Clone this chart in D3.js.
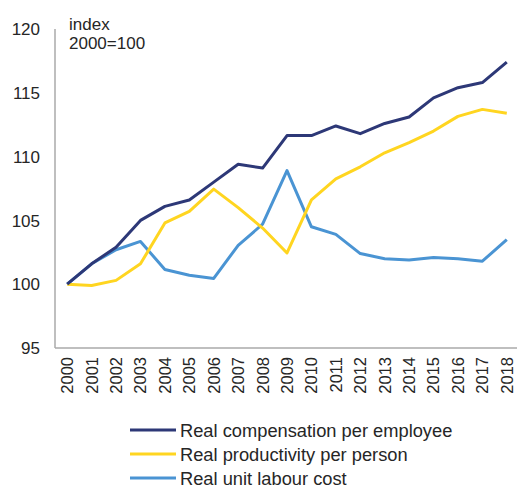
<!DOCTYPE html>
<html>
<head>
<meta charset="utf-8">
<script src="https://cdn.jsdelivr.net/npm/d3@7"></script>
<style>
  body { margin: 0; background: #fff; }
  svg text { font-family: "Liberation Sans", Arial, sans-serif; fill: #262626; }
</style>
</head>
<body>
<div id="chart"></div>
<script>
// chart data
let years = ["2000", "2001", "2002", "2003", "2004", "2005", "2006", "2007", "2008", "2009",
  "2010", "2011", "2012", "2013", "2014", "2015", "2016", "2017", "2018"];
let compensation = [100, 101.6, 102.9, 105.0, 106.1, 106.6, 108.0, 109.4, 109.1, 111.65,
  111.65, 112.4, 111.8, 112.6, 113.1, 114.6, 115.4, 115.8, 117.4];
let productivity = [100, 99.9, 100.3, 101.6, 104.8, 105.7, 107.45, 106.0, 104.4, 102.45,
  106.6, 108.25, 109.2, 110.3, 111.1, 112.0, 113.15, 113.7, 113.4];
let unitLabourCost = [100, 101.6, 102.7, 103.35, 101.15, 100.7, 100.45, 103.05, 104.7, 108.9,
  104.5, 103.9, 102.4, 102.0, 101.9, 102.1, 102.0, 101.8, 103.5];
let yTicks = [95, 100, 105, 110, 115, 120];
let seriesNames = ["Real compensation per employee", "Real productivity per person", "Real unit labour cost"];
let seriesColors = ["#2d3877", "#ffd520", "#4a94d3"];

let width = 517;
let height = 489;

let svg = d3.select("#chart")
  .append("svg")
  .attr("width", width)
  .attr("height", height);

// scales
let xScale = d3.scalePoint()
  .domain(years)
  .range([55, 519])
  .padding(0.5);

let yScale = d3.scaleLinear()
  .domain([95, 120])
  .range([348, 29]);

// axis lines
svg.append("line")
  .attr("x1", 55).attr("x2", 55)
  .attr("y1", yScale(120)).attr("y2", yScale(95))
  .attr("stroke", "#aaa").attr("stroke-width", 1.5);

svg.append("line")
  .attr("x1", 55).attr("x2", width)
  .attr("y1", yScale(95)).attr("y2", yScale(95))
  .attr("stroke", "#aaa").attr("stroke-width", 1.5);

// y tick labels
svg.selectAll(".yLabel")
  .data(yTicks)
  .enter()
  .append("text")
  .attr("class", "yLabel")
  .attr("x", 40)
  .attr("y", function(d) { return yScale(d); })
  .attr("dy", "0.36em")
  .attr("text-anchor", "end")
  .attr("font-size", 17)
  .text(function(d) { return d; });

// x tick labels, rotated
svg.selectAll(".xLabel")
  .data(years)
  .enter()
  .append("text")
  .attr("class", "xLabel")
  .attr("transform", function(d) {
    return "translate(" + xScale(d) + "," + (yScale(95) + 9) + ")rotate(-90)";
  })
  .attr("dy", "0.36em")
  .attr("text-anchor", "end")
  .attr("font-size", 16.5)
  .text(function(d) { return d; });

// unit note
svg.append("text")
  .attr("x", 69).attr("y", 30)
  .attr("font-size", 17)
  .text("index");
svg.append("text")
  .attr("x", 69).attr("y", 49)
  .attr("font-size", 17)
  .text("2000=100");

// lines
let line = d3.line()
  .x(function(d, i) { return xScale(years[i]); })
  .y(function(d) { return yScale(d); });

let allSeries = [compensation, productivity, unitLabourCost];

// draw ULC first, then productivity, then compensation on top
[2, 1, 0].forEach(function(k) {
  svg.append("path")
    .datum(allSeries[k])
    .attr("d", line)
    .attr("fill", "none")
    .attr("stroke", seriesColors[k])
    .attr("stroke-width", 3)
    .attr("stroke-linejoin", "round");
});

// legend
let legend = svg.append("g").attr("class", "legend");
seriesNames.forEach(function(name, i) {
  let ly = 430 + i * 24;
  legend.append("line")
    .attr("x1", 130).attr("x2", 176)
    .attr("y1", ly).attr("y2", ly)
    .attr("stroke", seriesColors[i])
    .attr("stroke-width", 3);
  legend.append("text")
    .attr("x", 180).attr("y", ly)
    .attr("dy", "0.36em")
    .attr("font-size", 18.3)
    .text(name);
});
</script>
</body>
</html>
